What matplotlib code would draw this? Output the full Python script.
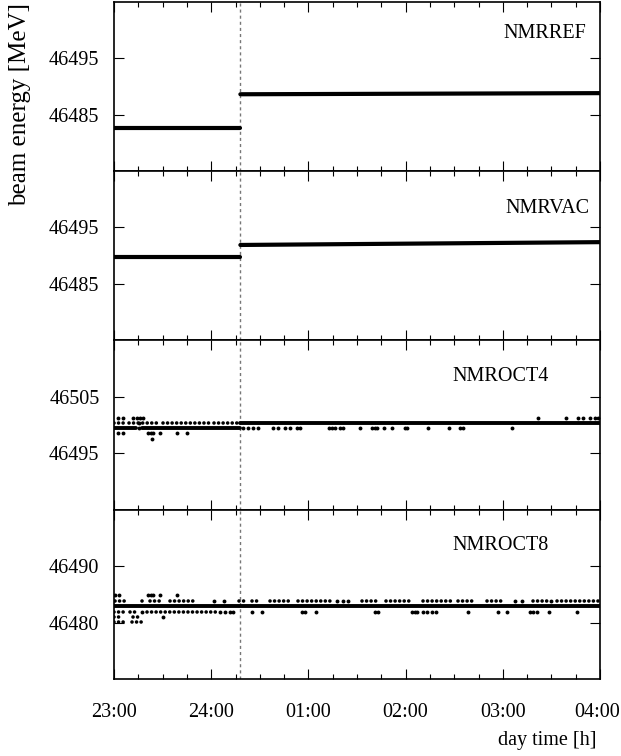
import matplotlib
matplotlib.use("Agg")
import matplotlib.pyplot as plt
import matplotlib.transforms as mtransforms
from matplotlib.ticker import FixedLocator, MultipleLocator, ScalarFormatter

plt.rcParams['font.family'] = ['Liberation Serif', 'DejaVu Serif']

# ---------------- data (x in minutes since 23:00) ----------------
x_ticks = [0, 60, 120, 180, 240, 300]
x_ticklabels = ['23:00', '24:00', '01:00', '02:00', '03:00', '04:00']
switch_time = 78

panel_names = ['NMRREF', 'NMRVAC', 'NMROCT4', 'NMROCT8']
panel_ylim = [(46475, 46505), (46475, 46505), (46485, 46515), (46470, 46500)]
panel_yticks = [[46485, 46495], [46485, 46495], [46495, 46505], [46480, 46490]]

# NMRREF: solid segments
ref_seg_t0 = [0, 78]
ref_seg_t1 = [78, 300]
ref_seg_v0 = [46482.7, 46488.6]
ref_seg_v1 = [46482.7, 46488.8]

# NMRVAC: solid segments
vac_seg_t0 = [0, 78]
vac_seg_t1 = [78, 300]
vac_seg_v0 = [46489.8, 46491.9]
vac_seg_v1 = [46489.8, 46492.4]

# NMROCT4
oct4_seg_t0 = [0, 17.5, 78]
oct4_seg_t1 = [13.5, 78, 300]
oct4_seg_v = [46499.4, 46499.4, 46500.3]
oct4_run_t0 = [0, 9, 30.5, 61.5]
oct4_run_t1 = [6.5, 28, 59, 78]
oct4_run_v = [46500.3, 46500.3, 46500.3, 46500.3]
oct4_dot_levels = [46501.2, 46500.3, 46499.4, 46498.5, 46497.5]
oct4_dots_a = [2.7, 5.8, 12.0, 14.0, 16.0, 18.0, 261.8, 279.3, 286.5, 289.6,
               293.7, 296.8, 299.0]
oct4_dots_b = [15.2]
oct4_dots_c = [15.2, 79.8, 82.9, 86.0, 89.1, 98.3, 101.4, 105.5, 108.6, 112.7,
               114.8, 132.5, 134.5, 136.4, 139.5, 141.5, 151.8, 159.0, 161.1,
               162.5, 166.7, 171.4, 179.6, 181.0, 194.0, 207.0, 213.6, 215.2,
               245.5]
oct4_dots_d = [2.7, 5.8, 21.2, 22.8, 24.3, 28.4, 38.7, 44.9]
oct4_dots_e = [23.7]

# NMROCT8
oct8_seg_t0 = [0]
oct8_seg_t1 = [300]
oct8_seg_v = [46482.85]
oct8_run_t0 = [0.6, 17, 22, 34.5, 77, 85, 96.5, 113.5, 153, 168, 191, 212.5,
               230, 258.8, 273.3, 0, 10, 20.5, 0, 12, 0, 11]
oct8_run_t1 = [8.5, 20, 30.4, 50, 82, 89, 108.5, 134.5, 163, 184.5, 208, 223,
               241.4, 267.5, 298.5, 6.8, 13, 63, 5.5, 17.5, 6, 17.8]
oct8_run_v = [46483.85] * 15 + [46481.9] * 3 + [46480.95] * 2 + [46480.05] * 2
oct8_dot_levels = [46484.8, 46483.85, 46481.9, 46480.95]
oct8_dots_a = [0.6, 3.0, 21.2, 22.7, 24.2, 28.2, 38.7]
oct8_dots_b = [61.5, 67.7, 137.5, 141.5, 144.5, 247.5, 251.7, 270.0]
oct8_dots_c = [17.1, 65.4, 68.5, 71.6, 73.6, 85.2, 91.2, 115.9, 117.9, 124.7,
               161.0, 163.0, 183.8, 185.5, 186.9, 191.0, 193.5, 196.5, 199.0,
               218.7, 237.2, 242.4, 256.8, 258.5, 261.0, 268.7, 285.8]
oct8_dots_d = [30.4]

# ---------------- figure ----------------
fig = plt.figure(figsize=(6.21, 7.56), dpi=100)
left, right = 114 / 621, 600 / 621
top, bottom = 1 - 1.7 / 756, 1 - 679 / 756
h = (top - bottom) / 4
axes = [fig.add_axes([left, top - (i + 1) * h, right - left, h]) for i in range(4)]

FS = 14.5
label_pos = [(0.971, 0.815), (0.979, 0.78), (0.895, 0.788), (0.895, 0.788)]
ink = 'black'


def solid(ax, t0, t1, v0, v1, lw):
    for a, b, c, d in zip(t0, t1, v0, v1):
        ax.plot([a, b], [c, d], color=ink, lw=lw, solid_capstyle='round', zorder=3)


def runs(ax, t0, t1, v):
    for a, b, c in zip(t0, t1, v):
        ax.plot([a, b], [c, c], color=ink, lw=2.6, linestyle=(0, (0.01, 1.25)),
                dash_capstyle='round', zorder=3)


def dots(ax, ts, level):
    ax.plot(ts, [level] * len(ts), 'o', color=ink, ms=2.8, mew=0, zorder=3)


solid(axes[0], ref_seg_t0, ref_seg_t1, ref_seg_v0, ref_seg_v1, 3.0)
solid(axes[1], vac_seg_t0, vac_seg_t1, vac_seg_v0, vac_seg_v1, 3.0)

solid(axes[2], oct4_seg_t0, oct4_seg_t1, oct4_seg_v, oct4_seg_v, 2.8)
runs(axes[2], oct4_run_t0, oct4_run_t1, oct4_run_v)
for lvl, ts in zip(oct4_dot_levels,
                   [oct4_dots_a, oct4_dots_b, oct4_dots_c, oct4_dots_d, oct4_dots_e]):
    dots(axes[2], ts, lvl)

solid(axes[3], oct8_seg_t0, oct8_seg_t1, oct8_seg_v, oct8_seg_v, 2.8)
runs(axes[3], oct8_run_t0, oct8_run_t1, oct8_run_v)
for lvl, ts in zip(oct8_dot_levels, [oct8_dots_a, oct8_dots_b, oct8_dots_c, oct8_dots_d]):
    dots(axes[3], ts, lvl)

for i, ax in enumerate(axes):
    ax.set_xlim(x_ticks[0], x_ticks[-1])
    ax.set_ylim(*panel_ylim[i])
    ax.axvline(switch_time, color='#777777', lw=1.0, linestyle=(0, (2.2, 2.2)), zorder=2)
    ax.xaxis.set_major_locator(FixedLocator(x_ticks))
    ax.xaxis.set_minor_locator(MultipleLocator(15))
    ax.yaxis.set_major_locator(FixedLocator(panel_yticks[i]))
    fmt = ScalarFormatter(useOffset=False)
    ax.yaxis.set_major_formatter(fmt)
    ax.tick_params(which='both', direction='in', top=True, right=True,
                   width=0.8, colors='black', labelsize=FS)
    ax.tick_params(which='major', length=7.2)
    ax.tick_params(which='minor', length=3.6)
    ax.tick_params(axis='y', which='major', pad=10.5)
    ax.tick_params(axis='x', which='major', pad=17)
    for s in ax.spines.values():
        s.set_linewidth(1.2)
    if i < 3:
        ax.set_xticklabels([])
    else:
        ax.set_xticklabels(x_ticklabels)
        last = ax.get_xticklabels()[-1]
        last.set_transform(last.get_transform() +
                           mtransforms.ScaledTranslation(-3 / 100, 0, fig.dpi_scale_trans))
    ax.text(label_pos[i][0], label_pos[i][1], panel_names[i], transform=ax.transAxes,
            ha='right', va='center', fontsize=FS)

fig.text(20 / 621, 1 - 104 / 756, 'beam energy [MeV]', rotation=90,
         ha='center', va='center', fontsize=18)
fig.text(597 / 621, 1 - 740 / 756, 'day time [h]', ha='right', va='center', fontsize=FS)

fig.savefig('out.png', dpi=100)
